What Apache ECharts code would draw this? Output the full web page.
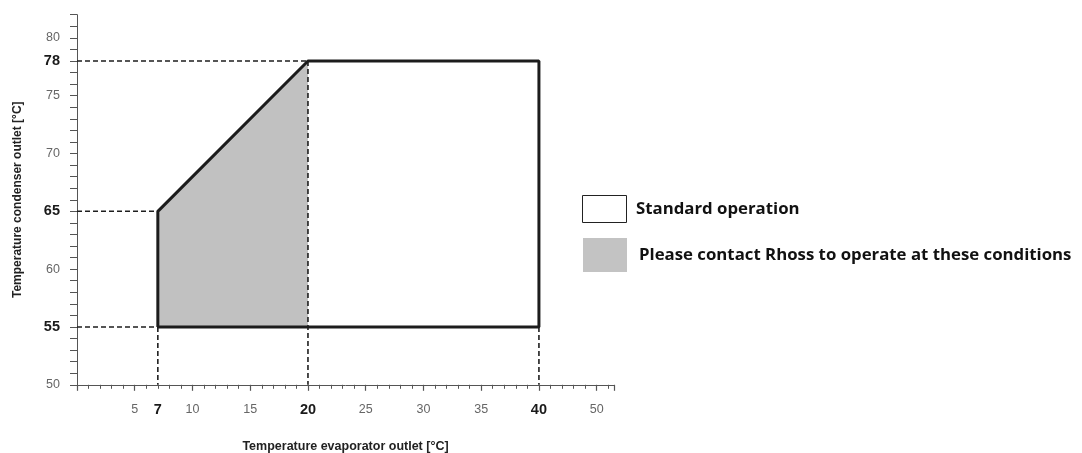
<!DOCTYPE html>
<html>
<head>
<meta charset="utf-8">
<script src="https://cdn.jsdelivr.net/npm/echarts@6/dist/echarts.min.js"></script>
<style>
html,body{margin:0;padding:0;background:#fff;}
#chart{width:1082px;height:453px;}
</style>
</head>
<body>
<div id="chart"></div>
<script>
// ---- data ----
const grayZone = [[7,55],[7,65],[20,78],[20,55]];
const envelope = [[7,55],[7,65],[20,78],[40,78],[40,55],[7,55]];
const guideLines = [
  [[0,78],[20,78]],
  [[0,65],[7,65]],
  [[0,55],[7,55]],
  [[7,55],[7,50]],
  [[20,78],[20,50]],
  [[40,55],[40,50]]
];
const xLabelValues = [5,7,10,15,20,25,30,35,40,45];
const xLabelTexts  = ['5','7','10','15','20','25','30','35','40','50'];
const xBoldValues  = [7,20,40];
const yLabelValues = [50,55,60,65,70,75,78,80];
const yBoldValues  = [55,65,78];
const legendLabels = ['Standard operation','Please contact Rhoss to operate at these conditions'];
const xName = 'Temperature evaporator outlet [°C]';
const yName = 'Temperature condenser outlet [°C]';

const chart = echarts.init(document.getElementById('chart'));
const FONT = '"Liberation Sans", Arial, sans-serif';

const guideSeries = guideLines.map(seg => ({
  type: 'line', data: seg, symbol: 'none', z: 3, silent: true,
  lineStyle: {color: '#1e1e1e', width: 1.6, type: [5, 3]},
  animation: false
}));

chart.setOption({
  animation: false,
  grid: {left: 77, top: 14.7, width: 537, height: 370.1, containLabel: false, outerBoundsMode: 'none'},
  xAxis: {
    type: 'value', min: 0, max: 46.5, interval: 5,
    name: xName, nameLocation: 'middle', nameGap: 55,
    nameTextStyle: {fontFamily: FONT, fontSize: 12.5, fontWeight: 'bold', color: '#222'},
    axisLine: {show: true, lineStyle: {color: '#555', width: 1}},
    axisTick: {show: true, length: 6, lineStyle: {color: '#555', width: 1.2}},
    minorTick: {show: true, splitNumber: 5, length: 4, lineStyle: {color: '#555', width: 1}},
    splitLine: {show: false}, minorSplitLine: {show: false},
    axisLabel: {
      customValues: xLabelValues, margin: 18,
      formatter: v => {
        const i = xLabelValues.indexOf(v);
        if (i < 0) return '';
        return xBoldValues.includes(v) ? '{b|' + xLabelTexts[i] + '}' : '{n|' + xLabelTexts[i] + '}';
      },
      rich: {
        b: {fontFamily: FONT, fontSize: 14.5, fontWeight: 'bold', color: '#1a1a1a'},
        n: {fontFamily: FONT, fontSize: 12.5, color: '#666'}
      }
    }
  },
  yAxis: {
    type: 'value', min: 50, max: 82, interval: 1,
    name: yName, nameLocation: 'middle', nameGap: 53, nameRotate: 90,
    nameTextStyle: {fontFamily: FONT, fontSize: 12, fontWeight: 'bold', color: '#222'},
    axisLine: {show: true, lineStyle: {color: '#555', width: 1}},
    axisTick: {show: true, length: 7, lineStyle: {color: '#555', width: 1}},
    splitLine: {show: false},
    axisLabel: {
      customValues: yLabelValues, margin: 17,
      formatter: v => {
        if (!yLabelValues.includes(v)) return '';
        return yBoldValues.includes(v) ? '{b|' + v + '}' : '{n|' + v + '}';
      },
      rich: {
        b: {fontFamily: FONT, fontSize: 14.5, fontWeight: 'bold', color: '#1a1a1a'},
        n: {fontFamily: FONT, fontSize: 12.5, color: '#666'}
      }
    }
  },
  series: [
    {
      type: 'custom', data: grayZone, z: 1, silent: true,
      renderItem: (params, api) => {
        if (params.dataIndex !== 0) return null;
        return {type: 'polygon', shape: {points: grayZone.map(p => api.coord(p))},
                style: {fill: '#c1c1c1'}};
      }
    },
    ...guideSeries,
    {
      type: 'line', data: envelope, symbol: 'none', z: 5, silent: true,
      lineStyle: {color: '#1c1c1c', width: 3}, animation: false
    }
  ],
  graphic: [
    {type: 'rect', shape: {x: 582.5, y: 195.5, width: 44, height: 27}, style: {fill: '#fff', stroke: '#222', lineWidth: 1}},
    {type: 'text', x: 636, y: 209, style: {text: legendLabels[0], fontFamily: '"Open Sans", sans-serif', fontSize: 16.8, fontWeight: 'bold', fill: '#111', verticalAlign: 'middle'}},
    {type: 'rect', shape: {x: 583, y: 238, width: 44, height: 34}, style: {fill: '#c3c3c3'}},
    {type: 'text', x: 639, y: 255, style: {text: legendLabels[1], fontFamily: '"Open Sans", sans-serif', fontSize: 16.8, fontWeight: 'bold', fill: '#111', verticalAlign: 'middle'}}
  ]
});
</script>
</body>
</html>
